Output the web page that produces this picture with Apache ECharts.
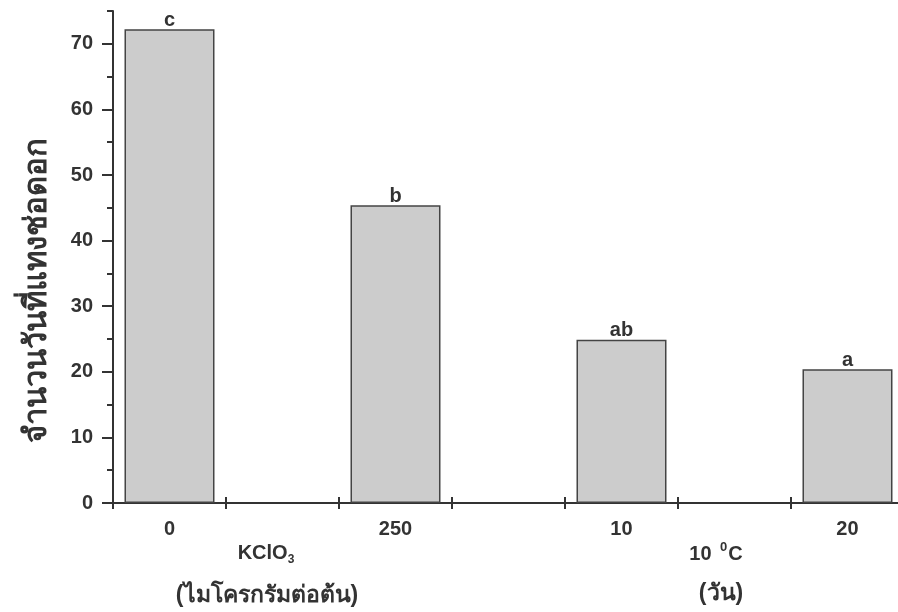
<!DOCTYPE html>
<html>
<head>
<meta charset="utf-8">
<script src="https://cdn.jsdelivr.net/npm/echarts@6/dist/echarts.min.js"></script>
<style>
  html, body { margin: 0; padding: 0; background: #fff; }
  #chart { width: 898px; height: 612px; }
</style>
</head>
<body>
<div id="chart"></div>
<script>
// Treatments, placed on every other slot of the x axis
const categories = ['0', '250', '10', '20'];
// Days to inflorescence emergence
const values = [72.2, 45.4, 24.9, 20.4];
// Mean-separation letters
const letters = ['c', 'b', 'ab', 'a'];
const majorTicks = [0, 10, 20, 30, 40, 50, 60, 70];
const minorTicks = [5, 15, 25, 35, 45, 55, 65, 75];

// Slot positions: treatment i sits at slot 2*i; ticks mark slot boundaries
const slotOf = i => 2 * i;
const barData = categories.map((c, i) => ({ value: [slotOf(i), values[i]], letter: letters[i] }));
const labelSlots = categories.map((c, i) => slotOf(i));
const boundaryTicks = [];
for (let s = 0; s <= slotOf(categories.length - 1); s++) boundaryTicks.push(s - 0.5);
boundaryTicks.push(slotOf(categories.length - 1) + 0.5);

const ink = '#333333';
const font = 'Liberation Sans, Arial, sans-serif';

const chart = echarts.init(document.getElementById('chart'), null, { renderer: 'canvas' });
chart.setOption({
  animation: false,
  backgroundColor: '#ffffff',
  grid: { left: 113, right: 0, top: 11, bottom: 109, containLabel: false },
  xAxis: [
    {
      type: 'value', min: -0.5, max: 6.447,
      axisLine: { show: true, onZero: false, lineStyle: { color: ink, width: 2 } },
      axisTick: { show: true, inside: false, length: 6, customValues: boundaryTicks, lineStyle: { color: ink, width: 2 } },
      axisLabel: {
        customValues: labelSlots, margin: 16, color: ink, fontSize: 20, fontWeight: 'bold', fontFamily: font,
        formatter: v => categories[Math.round(v / 2)]
      },
      splitLine: { show: false }
    },
    {
      type: 'value', min: -0.5, max: 6.447, position: 'bottom',
      axisLine: { show: false, onZero: false },
      axisTick: { show: true, inside: true, length: 6, customValues: boundaryTicks, lineStyle: { color: ink, width: 2 } },
      axisLabel: { show: false },
      splitLine: { show: false }
    }
  ],
  yAxis: [
    {
      type: 'value', min: 0, max: 75, interval: 5,
      axisLine: { show: true, onZero: false, lineStyle: { color: ink, width: 2 } },
      axisTick: { show: true, length: 11, customValues: majorTicks, lineStyle: { color: ink, width: 2 } },
      axisLabel: { customValues: majorTicks, margin: 20, color: ink, fontSize: 20, fontWeight: 'bold', fontFamily: font },
      splitLine: { show: false }
    },
    {
      type: 'value', min: 0, max: 75, interval: 5, position: 'left',
      axisLine: { show: false, onZero: false },
      axisTick: { show: true, length: 6, customValues: minorTicks, lineStyle: { color: ink, width: 2 } },
      axisLabel: { show: false },
      splitLine: { show: false }
    }
  ],
  series: [{
    type: 'bar', xAxisIndex: 0, yAxisIndex: 0,
    data: barData, barWidth: 90,
    itemStyle: { color: '#cccccc', borderColor: '#444444', borderWidth: 1.5 },
    label: {
      show: true, position: 'top', distance: -1,
      color: ink, fontSize: 20, fontWeight: 'bold', fontFamily: font,
      formatter: p => p.data.letter
    }
  }],
  graphic: [
    {
      type: 'text', x: 37, y: 290, rotation: Math.PI / 2,
      style: {
        text: 'จำนวนวันที่แทงช่อดอก', fill: ink,
        font: 'bold 31px ' + font, align: 'center', verticalAlign: 'middle'
      }
    },
    {
      type: 'text', x: 266, y: 553,
      style: {
        text: 'KClO{sub|3}', fill: ink, font: 'bold 20px ' + font,
        align: 'center', verticalAlign: 'middle',
        rich: { sub: { fontSize: 12, fontWeight: 'bold', fontFamily: font, fill: ink, padding: [14, 0, 0, 0] } }
      }
    },
    {
      type: 'text', x: 267, y: 596,
      style: { text: '(ไมโครกรัมต่อต้น)', fill: ink, font: 'bold 23px ' + font, align: 'center', verticalAlign: 'middle' }
    },
    {
      type: 'text', x: 716, y: 554,
      style: {
        text: '10 {sup|0}C', fill: ink, font: 'bold 20px ' + font,
        align: 'center', verticalAlign: 'middle',
        rich: { sup: { fontSize: 13, fontWeight: 'bold', fontFamily: font, fill: ink, padding: [0, 1, 14, 3] } }
      }
    },
    {
      type: 'text', x: 721, y: 594,
      style: { text: '(วัน)', fill: ink, font: 'bold 23px ' + font, align: 'center', verticalAlign: 'middle' }
    }
  ]
});
</script>
</body>
</html>
